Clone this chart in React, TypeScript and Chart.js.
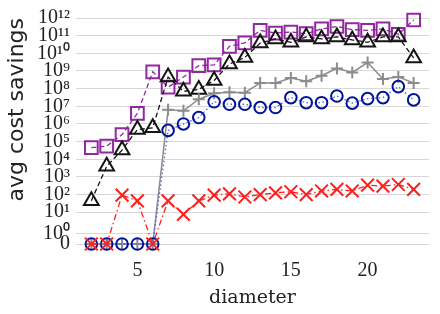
import React, { useEffect, useRef } from 'react';
import { Chart, registerables } from 'chart.js';

Chart.register(...registerables);

// ---- data ----
const diameters = [2, 3, 4, 5, 6, 7, 8, 9, 10, 11, 12, 13, 14, 15, 16, 17, 18, 19, 20, 21, 22, 23];
const squareSeries = [4.5e4, 5.5e4, 2.5e5, 4e6, 9e8, 1.2e8, 4.5e8, 2e9, 2.2e9, 2.5e10, 3.9e10, 2e11, 1.4e11, 1.6e11, 1.3e11, 2.4e11, 3.3e11, 2.2e11, 2e11, 2.4e11, 1.2e11, 7.7e11];
const triangleSeries = [45, 4e3, 3.3e4, 4.8e5, 6e5, 4.5e8, 7e7, 9e7, 2.9e8, 2.5e9, 5.8e9, 3.8e10, 6.5e10, 4.2e10, 8.5e10, 6.5e10, 8.5e10, 5.7e10, 4.2e10, 8.5e10, 8.5e10, 5.5e9];
const plusSeries = [0, 0, 0, 0, 0, 6.3e6, 5.6e6, 2.5e7, 5.4e7, 6.3e7, 5.9e7, 2.1e8, 2.1e8, 4e8, 2.6e8, 5.4e8, 1.4e9, 8.3e8, 3e9, 3.5e8, 4.6e8, 2.1e8];
const circleSeries = [0, 0, 0, 0, 0, 4.3e5, 1e6, 2.3e6, 1.8e7, 1.3e7, 1.3e7, 8.5e6, 8.5e6, 3.1e7, 1.6e7, 1.6e7, 3.8e7, 1.5e7, 2.7e7, 3.1e7, 1.3e8, 2.3e7];
const crossSeries = [0, 0, 93, 44, 0, 44, 8, 44, 93, 110, 73, 100, 125, 144, 100, 160, 195, 160, 340, 300, 370, 195];
const xTicks = [5, 10, 15, 20];
const yExponents = [1, 2, 3, 4, 5, 6, 7, 8, 9, 10, 11, 12];

// axis positions (in decades) of the special ticks "0" and "10^0"
const ZERO_POS = -0.8;
const ONE_POS = -0.22;

function toAxis(v: number): number {
  if (v <= 0) return ZERO_POS;
  const l = Math.log10(v);
  if (v < 10) return ONE_POS + l * (1 - ONE_POS);
  return l;
}

const SUP = ['⁰', '¹', '²', '³', '⁴', '⁵', '⁶', '⁷', '⁸', '⁹'];
function sup(n: number): string {
  return String(n).split('').map((d) => SUP[Number(d)]).join('');
}

function pts(series: number[]) {
  return diameters.map((d, i) => ({ x: d, y: toAxis(series[i]) }));
}

export default function App() {
  const ref = useRef<HTMLCanvasElement | null>(null);

  useEffect(() => {
    if (!ref.current) return;
    const tickFont = { family: '"Liberation Serif", serif', size: 20 };
    const chart = new Chart(ref.current, {
      type: 'line',
      data: {
        datasets: [
          {
            data: pts(crossSeries),
            borderColor: 'rgb(255,30,30)',
            pointBorderColor: 'rgb(255,30,30)',
            borderWidth: 1.3,
            borderDash: [6, 3, 1.5, 3],
            pointStyle: 'crossRot',
            pointRadius: 9,
            pointBorderWidth: 2,
            backgroundColor: 'transparent',
            pointBackgroundColor: 'transparent',
            clip: false,
          },
          {
            data: pts(circleSeries),
            borderColor: 'rgb(90,90,235)',
            pointBorderColor: 'rgb(0,20,150)',
            borderWidth: 1.3,
            borderDash: [1.5, 2.5],
            pointStyle: 'circle',
            pointRadius: 5.8,
            pointBorderWidth: 2,
            backgroundColor: 'transparent',
            pointBackgroundColor: 'transparent',
            clip: false,
          },
          {
            data: pts(plusSeries),
            borderColor: 'rgb(140,140,140)',
            pointBorderColor: 'rgb(140,140,140)',
            borderWidth: 1.5,
            pointStyle: 'cross',
            pointRadius: 6,
            pointBorderWidth: 2,
            backgroundColor: 'transparent',
            pointBackgroundColor: 'transparent',
            clip: false,
          },
          {
            data: pts(triangleSeries),
            borderColor: 'rgb(20,20,20)',
            pointBorderColor: 'rgb(20,20,20)',
            borderWidth: 1.3,
            borderDash: [5, 3],
            pointStyle: 'triangle',
            pointRadius: 8.5,
            pointBorderWidth: 2,
            backgroundColor: 'transparent',
            pointBackgroundColor: 'transparent',
            clip: false,
          },
          {
            data: pts(squareSeries),
            borderColor: 'rgb(145,40,160)',
            pointBorderColor: 'rgb(145,40,160)',
            borderWidth: 1.3,
            borderDash: [5, 3],
            pointStyle: 'rect',
            pointRadius: 9,
            pointBorderWidth: 2,
            backgroundColor: 'transparent',
            pointBackgroundColor: 'transparent',
            clip: false,
          },
        ],
      },
      options: {
        animation: false,
        responsive: false,
        events: [],
        layout: { padding: { left: 0, right: 5, top: 14, bottom: 0 } },
        plugins: { legend: { display: false }, tooltip: { enabled: false } },
        scales: {
          x: {
            type: 'linear',
            min: 1,
            max: 24,
            grid: { display: false, drawTicks: false },
            border: { display: false },
            afterBuildTicks: (scale: any) => {
              scale.ticks = xTicks.map((v) => ({ value: v }));
            },
            afterFit: (scale: any) => {
              scale.height = 70;
            },
            ticks: {
              font: tickFont,
              color: '#222',
              padding: 15,
              maxRotation: 0,
              autoSkip: false,
              callback: (v: any) => String(v),
            },
            title: {
              display: true,
              text: 'diameter',
              font: { family: '"DejaVu Serif", serif', size: 19 },
              color: '#222',
              padding: { top: 0, bottom: 5 },
            },
          },
          y: {
            type: 'linear',
            min: ZERO_POS,
            max: 12,
            grid: { color: 'rgb(215,215,215)', lineWidth: 1, drawTicks: false },
            border: { display: false },
            afterBuildTicks: (scale: any) => {
              scale.ticks = [ZERO_POS, ONE_POS, ...yExponents].map((v) => ({ value: v }));
            },
            afterFit: (scale: any) => {
              scale.width = 76;
            },
            ticks: {
              font: tickFont,
              color: '#222',
              padding: 6,
              autoSkip: false,
              callback: (v: any) => {
                if (v === ZERO_POS) return '0';
                if (v === ONE_POS) return '10' + sup(0);
                return '10' + sup(Number(v));
              },
            },
            title: {
              display: true,
              text: 'avg cost savings',
              align: 'end',
              font: { family: '"DejaVu Sans", sans-serif', size: 22 },
              color: '#222',
              padding: { top: 4, bottom: 0 },
            },
          },
        },
      },
    } as any);
    return () => chart.destroy();
  }, []);

  return (
    <div style={{ position: 'fixed', left: 0, top: 0, width: 440, height: 314, background: '#fff' }}>
      <canvas ref={ref} width={440} height={314} style={{ width: 440, height: 314 }} />
    </div>
  );
}
